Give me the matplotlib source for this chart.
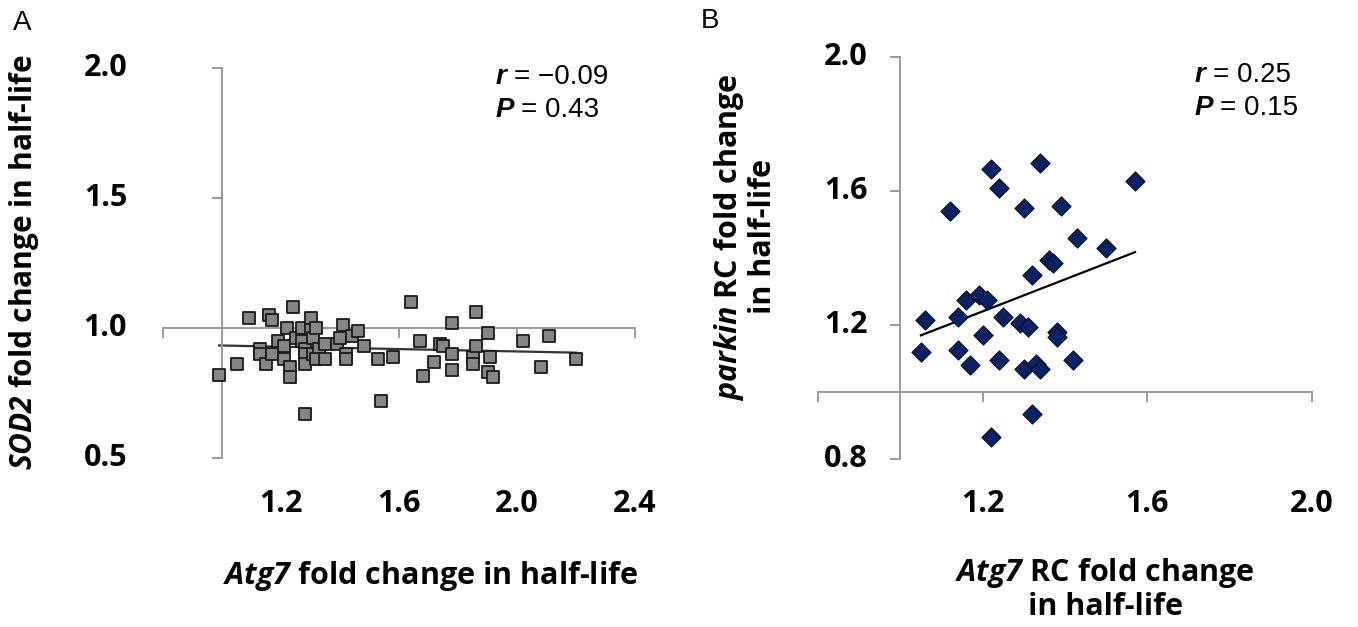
import numpy as np
import matplotlib
matplotlib.use("Agg")
import matplotlib.pyplot as plt
import matplotlib.transforms as mtransforms
from matplotlib import font_manager
from matplotlib.offsetbox import TextArea, HPacker, VPacker, AnchoredOffsetbox

# panel A: Atg7 vs SOD2 fold change in half-life
a_x = [0.99, 1.05, 1.09, 1.13, 1.13, 1.15, 1.16, 1.17, 1.17, 1.19,
       1.21, 1.21, 1.22, 1.23, 1.23, 1.24, 1.25, 1.27, 1.27, 1.28,
       1.28, 1.28, 1.28, 1.30, 1.30, 1.31, 1.31, 1.32, 1.33, 1.32,
       1.35, 1.35, 1.39, 1.40, 1.41, 1.42, 1.42, 1.44, 1.46, 1.48,
       1.53, 1.54, 1.58, 1.64, 1.67, 1.68, 1.72, 1.74, 1.75, 1.78,
       1.78, 1.78, 1.85, 1.85, 1.86, 1.86, 1.90, 1.91, 1.90, 1.92,
       2.02, 2.08, 2.11, 2.20]
a_y = [0.82, 0.86, 1.04, 0.92, 0.90, 0.86, 1.05, 0.90, 1.03, 0.95,
       0.88, 0.93, 1.00, 0.85, 0.81, 1.08, 0.96, 0.95, 1.00, 0.92,
       0.90, 0.86, 0.67, 1.00, 1.04, 0.96, 0.90, 1.00, 0.92, 0.88,
       0.88, 0.94, 0.94, 0.96, 1.01, 0.90, 0.88, 0.97, 0.99, 0.93,
       0.88, 0.72, 0.89, 1.10, 0.95, 0.815, 0.87, 0.94, 0.93, 1.02,
       0.90, 0.84, 0.89, 0.86, 1.06, 0.93, 0.98, 0.89, 0.83, 0.81,
       0.95, 0.85, 0.97, 0.88]
a_xticks = [1.2, 1.6, 2.0, 2.4]
a_yticks = [0.5, 1.0, 1.5, 2.0]

# panel B: Atg7 RC vs parkin RC fold change in half-life
b_x = [1.06, 1.05, 1.12, 1.14, 1.14, 1.16, 1.17, 1.19, 1.21, 1.20,
       1.22, 1.24, 1.22, 1.24, 1.25, 1.29, 1.31, 1.30, 1.30, 1.32,
       1.34, 1.32, 1.33, 1.34, 1.36, 1.37, 1.38, 1.38, 1.39, 1.43,
       1.42, 1.50, 1.57]
b_y = [1.215, 1.12, 1.54, 1.225, 1.125, 1.275, 1.08, 1.29, 1.275, 1.17,
       1.665, 1.61, 0.865, 1.095, 1.225, 1.205, 1.195, 1.07, 1.55, 1.35,
       1.685, 0.935, 1.085, 1.07, 1.395, 1.385, 1.18, 1.165, 1.555, 1.46,
       1.095, 1.43, 1.63]
b_xticks = [1.2, 1.6, 2.0]
b_yticks = [0.8, 1.2, 1.6, 2.0]


def pick_font(names):
    for n in names:
        try:
            font_manager.findfont(n, fallback_to_default=False)
            return n
        except Exception:
            pass
    return "DejaVu Sans"


LABEL_FONT = pick_font(["Open Sans", "DejaVu Sans"])
STAT_FONT = pick_font(["Liberation Sans Narrow", "Liberation Sans"])

plt.rcParams["font.family"] = [LABEL_FONT, "DejaVu Sans"]
plt.rcParams["mathtext.fontset"] = "custom"
plt.rcParams["mathtext.it"] = LABEL_FONT + ":bold:italic"
plt.rcParams["mathtext.rm"] = LABEL_FONT + ":bold:italic"

AXCOL = "#9a9a9a"
FS = 22


def setup_axes(ax, xlim, ylim, xticks, yticks, all_xticks, all_yticks,
               xlab_y, ylab_x):
    ax.set_xlim(*xlim)
    ax.set_ylim(*ylim)
    ax.spines["top"].set_visible(False)
    ax.spines["right"].set_visible(False)
    # axes cross at 1.0, labels stay at the low side (Excel style)
    ax.spines["left"].set_position(("data", 1.0))
    ax.spines["bottom"].set_position(("data", 1.0))
    for s in ("left", "bottom"):
        ax.spines[s].set_color(AXCOL)
        ax.spines[s].set_linewidth(1.4)
    ax.set_xticks(all_xticks)
    ax.set_yticks(all_yticks)
    ax.tick_params(direction="out", length=7, width=1.4, color=AXCOL,
                   labelbottom=False, labelleft=False)
    tx = mtransforms.blended_transform_factory(ax.transData, ax.transAxes)
    for v in xticks:
        ax.text(v, xlab_y, f"{v:.1f}", transform=tx, ha="center", va="center",
                fontsize=FS, fontweight="bold")
    ty = mtransforms.blended_transform_factory(ax.transAxes, ax.transData)
    for v in yticks:
        ax.text(ylab_x, v, f"{v:.1f}", transform=ty, ha="right", va="center",
                fontsize=FS, fontweight="bold")


def stat_box(fig, x, y, sym, val):
    rows = []
    for s, v in zip(sym, val):
        rows.append(HPacker(children=[
            TextArea(s, textprops=dict(fontsize=20, fontfamily=STAT_FONT,
                                       fontweight="bold", fontstyle="italic")),
            TextArea("= " + v, textprops=dict(fontsize=20, fontfamily=STAT_FONT))],
            align="baseline", pad=0, sep=5))
    box = VPacker(children=rows, align="left", pad=0, sep=5)
    anch = AnchoredOffsetbox(loc="upper left", child=box, pad=0, borderpad=0,
                             frameon=False, bbox_to_anchor=(x, y),
                             bbox_transform=fig.transFigure)
    fig.add_artist(anch)


fig = plt.figure(figsize=(13.58, 6.27), dpi=100)

# ---- panel A
axA = fig.add_axes([163 / 1358, 169 / 627, 472 / 1358, 390 / 627])
setup_axes(axA, (0.8, 2.4), (0.5, 2.0), a_xticks, a_yticks,
           [0.8, 1.2, 1.6, 2.0, 2.4], a_yticks, -0.118, -0.076)
axA.scatter(a_x, a_y, marker="s", s=70, facecolor="#858585",
            edgecolor="#1a1a1a", linewidth=1.3, zorder=3)
ka, ba = np.polyfit(a_x, a_y, 1)
xa = np.array([min(a_x), max(a_x)])
axA.plot(xa, ka * xa + ba, color="#333333", lw=1.6, zorder=2)

# ---- panel B
axB = fig.add_axes([818 / 1358, 168 / 627, 494 / 1358, 402 / 627])
setup_axes(axB, (0.8, 2.0), (0.8, 2.0), b_xticks, b_yticks,
           [0.8, 1.2, 1.6, 2.0], b_yticks, -0.112, 0.101)
axB.scatter(b_x, b_y, marker="D", s=95, facecolor="#0b2163",
            edgecolor="#050c26", linewidth=0.8, zorder=3)
kb, bb = np.polyfit(b_x, b_y, 1)
xb = np.array([min(b_x), max(b_x)])
axB.plot(xb, kb * xb + bb, color="black", lw=1.6, zorder=2)

# ---- labels
fig.text(22 / 1358, 1 - 23 / 627, "A", fontsize=20, ha="center", va="center",
         family="Liberation Sans")
fig.text(710 / 1358, 1 - 21 / 627, "B", fontsize=20, ha="center", va="center",
         family="Liberation Sans")

fig.text(24 / 1358, 1 - 262 / 627, r"$\mathit{SOD2}$ fold change in half-life",
         rotation=90, ha="center", va="center", fontsize=21.5, fontweight="bold")
fig.text(431 / 1358, 1 - 576 / 627, r"$\mathit{Atg7}$ fold change in half-life",
         ha="center", va="center", fontsize=FS, fontweight="bold")

fig.text(745 / 1358, 1 - 237 / 627,
         "$\\mathit{parkin}$ RC fold change\nin half-life",
         rotation=90, ha="center", va="center", fontsize=FS, fontweight="bold",
         multialignment="center", linespacing=1.08)
fig.text(1105 / 1358, 1 - 589 / 627,
         "$\\mathit{Atg7}$ RC fold change\nin half-life",
         ha="center", va="center", fontsize=FS, fontweight="bold",
         multialignment="center", linespacing=1.05)

stat_box(fig, 496 / 1358, 1 - 64 / 627, ["r", "P"], ["\u22120.09", "0.43"])
stat_box(fig, 1195 / 1358, 1 - 62 / 627, ["r", "P"], ["0.25", "0.15"])

fig.savefig("out.png", dpi=100)
